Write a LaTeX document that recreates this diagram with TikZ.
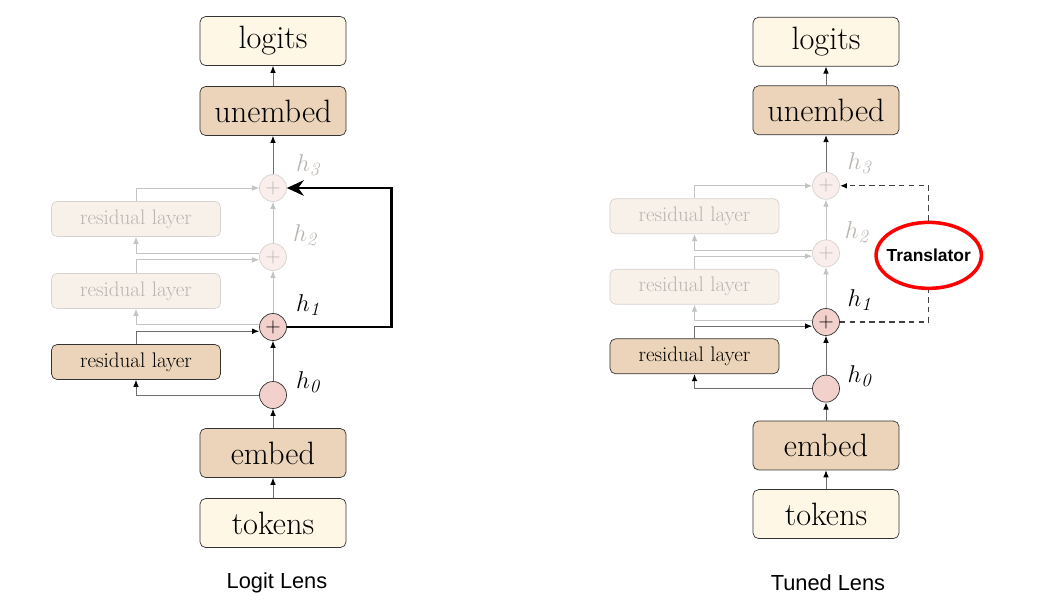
\documentclass[tikz,border=0pt]{standalone}
\usepackage{fontspec}
\setsansfont{Liberation Sans}
\usetikzlibrary{arrows.meta,positioning,shapes.geometric}

\definecolor{cream}{RGB}{255,247,229}
\definecolor{tan}{RGB}{235,212,185}
\definecolor{rose}{RGB}{242,209,204}
\definecolor{fadefill}{RGB}{248,241,234}
\definecolor{fadedraw}{RGB}{215,210,205}
\definecolor{fadetext}{RGB}{185,180,175}
\definecolor{faderose}{RGB}{250,238,236}
\definecolor{linegray}{RGB}{110,110,110}
\definecolor{fadeline}{RGB}{195,195,195}

% one column of the network, nodes named relative to the scope prefix
\newcommand{\lensstack}{%
  \node[outbox]   (logits)  at (0,-286) {logits};
  \node[layerbox] (unembed) at (0,-216) {unembed};
  \node[sumnode,fadesum] (h3) at (0,-139) {$+$};
  \node[resbox,faderes]  (res2) at (-137,-108) {residual layer};
  \node[sumnode,fadesum] (h2) at (0,-70) {$+$};
  \node[resbox,faderes]  (res1) at (-137,-36) {residual layer};
  \node[sumnode] (h1) at (0,0) {$+$};
  \node[resbox]  (res0) at (-137,35) {residual layer};
  \node[sumnode] (h0) at (0,68) {};
  \node[layerbox] (embed)  at (0,126) {embed};
  \node[outbox]   (tokens) at (0,196) {tokens};
  % state labels
  \node[hlabel,text=fadetext] (l3) at (35,-162) {$h_{\mathit{3}}$};
  \node[hlabel,text=fadetext] (l2) at (32,-92)  {$h_{\mathit{2}}$};
  \node[hlabel] (l1) at (35,-22) {$h_{\mathit{1}}$};
  \node[hlabel] (l0) at (35,55)  {$h_{\mathit{0}}$};
  % residual stream
  \draw[link] (tokens) -- (embed);
  \draw[link] (embed) -- (h0);
  \draw[link] (h0) -- (h1);
  \draw[link] (h0.west) -| (res0.south);
  \draw[link] (res0.north) |- ([yshift=-3pt]h1.west);
  \draw[fadelink] ([yshift=1.5pt]h1.west) -| (res1.south);
  \draw[fadelink] (h1) -- (h2);
  \draw[fadelink] (res1.north) |- ([yshift=-2pt]h2.west);
  \draw[fadelink] ([yshift=2.5pt]h2.west) -| (res2.south);
  \draw[fadelink] (h2) -- (h3);
  \draw[fadelink] (res2.north) |- (h3.west);
  \draw[link] (h3) -- (unembed);
  \draw[link] (unembed) -- (logits);
}

\begin{document}
\begin{tikzpicture}[x=0.025cm,y=-0.025cm,
  outbox/.style={rectangle,rounded corners=4pt,draw=black!80,line width=0.5pt,fill=cream,
    minimum width=3.65cm,minimum height=1.225cm,font=\fontsize{23}{25}\selectfont},
  layerbox/.style={outbox,fill=tan},
  resbox/.style={rectangle,rounded corners=4pt,draw=black!80,line width=0.5pt,fill=tan,
    minimum width=4.225cm,minimum height=0.875cm,font=\fontsize{15}{17}\selectfont},
  faderes/.style={draw=fadedraw,fill=fadefill,text=fadetext},
  sumnode/.style={circle,draw=black!80,line width=0.5pt,fill=rose,minimum size=0.675cm,
    inner sep=0pt,font=\Large},
  fadesum/.style={draw=fadedraw,fill=faderose,text=fadetext},
  hlabel/.style={font=\fontsize{19}{21}\selectfont},
  link/.style={draw=linegray,line width=0.6pt,-{Latex[black,length=5pt,width=4pt]}},
  fadelink/.style={draw=fadeline,line width=0.6pt,-{Latex[fadeline,length=5pt,width=4pt]}},
  lensarrow/.style={draw=black,line width=2pt,-{Stealth[length=12pt,width=11pt]}},
  translink/.style={draw=black!75,line width=1pt,dash pattern=on 4pt off 3pt},
  caption/.style={font=\sffamily\fontsize{15.5}{17}\selectfont}]
  \useasboundingbox (0,0) rectangle (1064,600);

  % logit lens
  \begin{scope}[shift={(273,327)},name prefix=L-]
    \lensstack
    \draw[lensarrow] (h1.east) -- ++(105,0) |- (h3.east);
  \end{scope}

  % tuned lens
  \begin{scope}[shift={(826,322)},xscale=0.96,yscale=0.98,name prefix=R-]
    \lensstack
    \node[ellipse,draw=red,line width=2.5pt,fill=white,inner xsep=-3.5pt,minimum width=2.5cm,
      minimum height=1.65cm,font=\sffamily\bfseries\fontsize{12.4}{14}\selectfont]
      (trans) at (107,-68) {Translator};
    \draw[translink] (h1.east) -| (trans.south);
    \draw[translink,-{Latex[black,length=5pt,width=4pt]}] (trans.north) |- (h3.east);
  \end{scope}

  \node[caption] (cap1) at (277,583) {Logit Lens};
  \node[caption] (cap2) at (828,583) {Tuned Lens};
\end{tikzpicture}
\end{document}
